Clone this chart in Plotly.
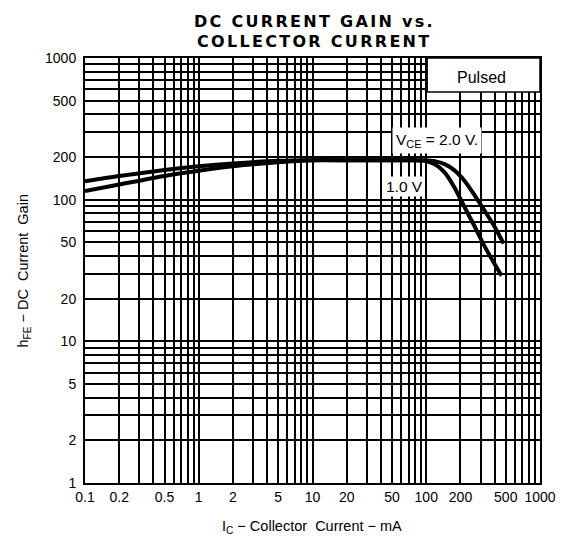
import plotly.graph_objects as go

# Data
ic_1v = [0.1, 0.2, 0.5, 1, 2, 5, 10, 20, 50, 80, 97, 119, 145, 177, 215, 263, 321, 392, 459]
hfe_1v = [115, 128, 147, 160, 172, 184, 190, 190, 190, 190, 188, 178, 156, 122, 90, 66, 48, 36, 29]

ic_2v = [0.1, 0.2, 0.5, 1, 2, 5, 10, 20, 50, 80, 97, 119, 145, 177, 215, 263, 321, 392, 479]
hfe_2v = [135, 147, 162, 172, 180, 188, 190, 190, 190, 190, 190, 187, 178, 161, 137, 109, 85, 66, 49]

x_tickvals = [0.1, 0.2, 0.5, 1, 2, 5, 10, 20, 50, 100, 200, 500, 1000]
x_ticktext = ["0.1", "0.2", "0.5", "1", "2", "5", "10", "20", "50", "100", "200", "500", "1000"]
y_tickvals = [1, 2, 5, 10, 20, 50, 100, 200, 500, 1000]
y_ticktext = ["1", "2", "5", "10", "20", "50", "100", "200", "500", "1000"]

x_minor = [m * 10 ** e for e in range(-1, 3) for m in (3, 4, 6, 7, 8, 9)]
y_minor = [m * 10 ** e for e in range(0, 3) for m in (3, 4, 6, 7, 8, 9)]

FONT = "Liberation Sans, Arial, sans-serif"

fig = go.Figure()
fig.add_trace(go.Scatter(x=ic_1v, y=hfe_1v, mode="lines",
                         line=dict(color="black", width=4, shape="spline", smoothing=0.6),
                         showlegend=False, hoverinfo="skip"))
fig.add_trace(go.Scatter(x=ic_2v, y=hfe_2v, mode="lines",
                         line=dict(color="black", width=4, shape="spline", smoothing=0.6),
                         showlegend=False, hoverinfo="skip"))

axis_common = dict(type="log", showline=True, linecolor="black", linewidth=2, mirror=True,
                   showgrid=True, gridcolor="black", gridwidth=1.5, ticks="", zeroline=False,
                   tickfont=dict(family=FONT, size=14, color="black"))

fig.update_xaxes(**axis_common, range=[-1, 3], tickvals=x_tickvals, ticktext=x_ticktext,
                 minor=dict(tickvals=x_minor, showgrid=True, gridcolor="black", gridwidth=1.5))
fig.update_yaxes(**axis_common, range=[0, 3], tickvals=y_tickvals, ticktext=y_ticktext,
                 ticklabelstandoff=4,
                 minor=dict(tickvals=y_minor, showgrid=True, gridcolor="black", gridwidth=1.5))

# Axis titles
fig.add_annotation(xref="paper", yref="paper", x=0.499, y=-0.1035, xanchor="center", yanchor="middle",
                   text="I<sub>C</sub> − Collector  Current − mA", showarrow=False,
                   font=dict(family=FONT, size=14.5, color="black"))
fig.add_annotation(xref="paper", yref="paper", x=-0.136, y=0.5, xanchor="center", yanchor="middle",
                   text="h<sub>FE</sub> − DC  Current  Gain", showarrow=False, textangle=-90,
                   font=dict(family=FONT, size=14.5, color="black"))

# Title (wide, letter-spaced bold caps)
TFONT = dict(family="DejaVu Sans, sans-serif", size=16, color="black")
SPACED = "<b><span style='letter-spacing:2.3px'>{}</span></b>"
fig.add_annotation(xref="paper", yref="paper", x=0.505, y=1.086, xanchor="center", yanchor="middle",
                   text=SPACED.format("DC CURRENT GAIN vs."), showarrow=False, font=TFONT)
fig.add_annotation(xref="paper", yref="paper", x=0.505, y=1.038, xanchor="center", yanchor="middle",
                   text=SPACED.format("COLLECTOR CURRENT"), showarrow=False, font=TFONT)

# "Pulsed" box
fig.add_shape(type="rect", xref="paper", yref="paper", x0=0.752, x1=1.0, y0=0.92, y1=1.0,
              fillcolor="white", line=dict(color="black", width=1.5), layer="above")
fig.add_annotation(xref="paper", yref="paper", x=0.872, y=0.955, xanchor="center", yanchor="middle",
                   text="Pulsed", showarrow=False, font=dict(family=FONT, size=16, color="black"))

fig.add_annotation(x=2.096, y=2.42, xref="x", yref="y", text="V<sub>CE</sub> = 2.0 V.", showarrow=False,
                   xanchor="center", yanchor="middle",
                   bgcolor="white", borderpad=3, font=dict(family=FONT, size=15.5, color="black"))
fig.add_annotation(x=1.808, y=2.09, xref="x", yref="y", text="1.0 V", showarrow=False,
                   xanchor="center", yanchor="middle",
                   bgcolor="white", borderpad=1, font=dict(family=FONT, size=15.5, color="black"))

# Page body has an 8px margin; size the figure so the plot lands where the reference has it
fig.update_layout(
    width=560, height=532,
    margin=dict(l=77, r=20, t=50, b=57),
    paper_bgcolor="white", plot_bgcolor="white",
)

fig.write_html("out.html")
